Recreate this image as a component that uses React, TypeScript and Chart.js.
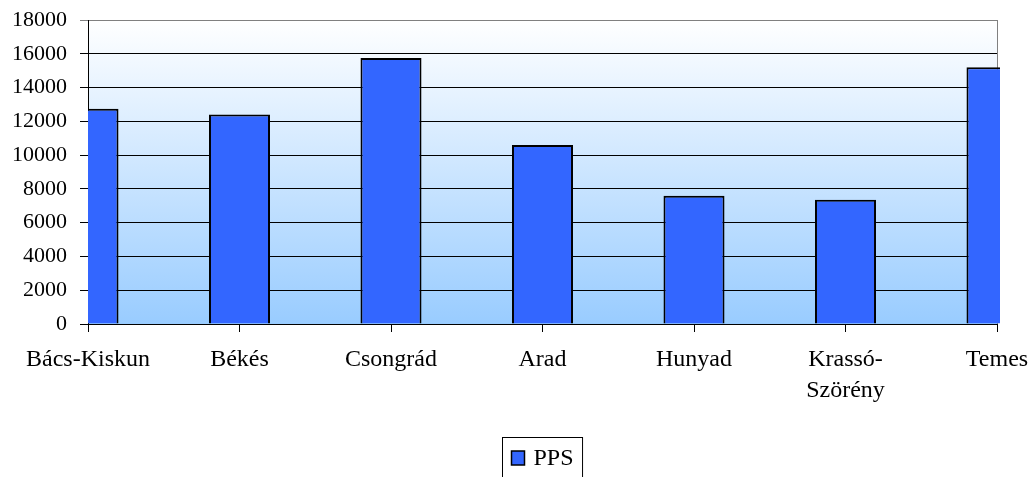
import { useEffect, useRef } from 'react';
import { Chart, registerables } from 'chart.js';

Chart.register(...registerables);

const categories: (string | string[])[] = [
  'Bács-Kiskun',
  'Békés',
  'Csongrád',
  'Arad',
  'Hunyad',
  ['Krassó-', 'Szörény'],
  'Temes',
];
const ppsValues = [12750, 12400, 15750, 10600, 7600, 7350, 15200];
const seriesLabel = 'PPS';
const yMin = 0;
const yMax = 18000;
const yStep = 2000;

const FONT = "'Liberation Serif', 'Times New Roman', serif";

const plotPlugin = {
  id: 'plotDecor',
  beforeDraw(chart: any) {
    const { ctx, chartArea } = chart;
    const { left, top, right, bottom } = chartArea;
    const g = ctx.createLinearGradient(0, top, 0, bottom);
    g.addColorStop(0, '#ffffff');
    g.addColorStop(1, '#99ccff');
    ctx.save();
    ctx.fillStyle = g;
    ctx.fillRect(left, top, right - left, bottom - top);
    ctx.restore();
  },
  beforeDatasetsDraw(chart: any) {
    const { ctx, chartArea } = chart;
    const { top, right, bottom } = chartArea;
    ctx.save();
    ctx.strokeStyle = '#808080';
    ctx.lineWidth = 1;
    ctx.beginPath();
    ctx.moveTo(Math.round(right) + 0.5, top);
    ctx.lineTo(Math.round(right) + 0.5, bottom);
    ctx.stroke();
    ctx.restore();
  },
  afterDraw(chart: any) {
    const { ctx } = chart;
    const ds = chart.data.datasets[0];
    ctx.save();
    ctx.font = `24px ${FONT}`;
    const label = String(ds.label);
    const tw = ctx.measureText(label).width;
    const sq = 13;
    const padL = 9;
    const gap = 9;
    const padR = 9;
    const boxW = padL + sq + gap + tw + padR;
    const cx = (chart.chartArea.left + chart.chartArea.right) / 2;
    const bx = Math.round(cx - boxW / 2) + 0.5;
    const by = 437.5;
    ctx.fillStyle = '#ffffff';
    ctx.fillRect(bx, by, boxW, 50);
    ctx.strokeStyle = '#000000';
    ctx.lineWidth = 1;
    ctx.strokeRect(bx, by, boxW, 50);
    ctx.fillStyle = ds.backgroundColor;
    ctx.fillRect(bx + padL, 451, sq, 14);
    ctx.lineWidth = 1.5;
    ctx.strokeRect(bx + padL, 451, sq, 14);
    ctx.fillStyle = '#000000';
    ctx.textBaseline = 'alphabetic';
    ctx.textAlign = 'left';
    ctx.fillText(label, bx + padL + sq + gap, 465);
    ctx.restore();
  },
};

export default function App() {
  const canvasRef = useRef<HTMLCanvasElement | null>(null);

  useEffect(() => {
    if (!canvasRef.current) return;
    const chart = new Chart(canvasRef.current, {
      type: 'bar',
      data: {
        labels: categories as any,
        datasets: [
          {
            label: seriesLabel,
            data: ppsValues,
            backgroundColor: '#3366ff',
            borderColor: '#000000',
            borderWidth: 2,
            barPercentage: 0.403,
            categoryPercentage: 1,
            clip: { left: 0, top: 10, right: 3, bottom: 0 } as any,
          },
        ],
      },
      options: {
        responsive: false,
        animation: false,
        layout: { padding: { left: 0, right: 32, top: 20, bottom: 0 } },
        plugins: {
          legend: { display: false },
          tooltip: { enabled: false },
        },
        scales: {
          x: {
            offset: false,
            afterFit: (scale: any) => {
              scale.height = 153;
              scale.paddingLeft = 0;
              scale.paddingRight = 0;
            },
            grid: {
              display: true,
              offset: false,
              drawOnChartArea: false,
              drawTicks: true,
              tickLength: 8,
              color: '#000000',
            },
            border: { display: true, color: '#000000', width: 1 },
            ticks: {
              autoSkip: false,
              maxRotation: 0,
              minRotation: 0,
              padding: 12,
              color: '#000000',
              font: { family: FONT, size: 24, lineHeight: 1.3 },
            },
          },
          y: {
            min: yMin,
            max: yMax,
            afterFit: (scale: any) => {
              scale.width = 88;
              scale.paddingTop = 0;
              scale.paddingBottom = 0;
            },
            grid: {
              color: (c: any) => (c.tick && c.tick.value === yMax ? '#808080' : '#000000'),
              tickLength: 8,
              lineWidth: 1,
            },
            border: { display: true, color: '#000000', width: 1 },
            ticks: {
              stepSize: yStep,
              padding: 13,
              color: '#000000',
              font: { family: FONT, size: 22 },
              callback: (v: any) => String(v),
            },
          },
        },
      },
      plugins: [plotPlugin],
    });
    return () => chart.destroy();
  }, []);

  return (
    <div style={{ position: 'absolute', left: 0, top: 0, width: 1029, height: 477 }}>
      <canvas ref={canvasRef} width={1029} height={477} style={{ display: 'block' }} />
    </div>
  );
}
